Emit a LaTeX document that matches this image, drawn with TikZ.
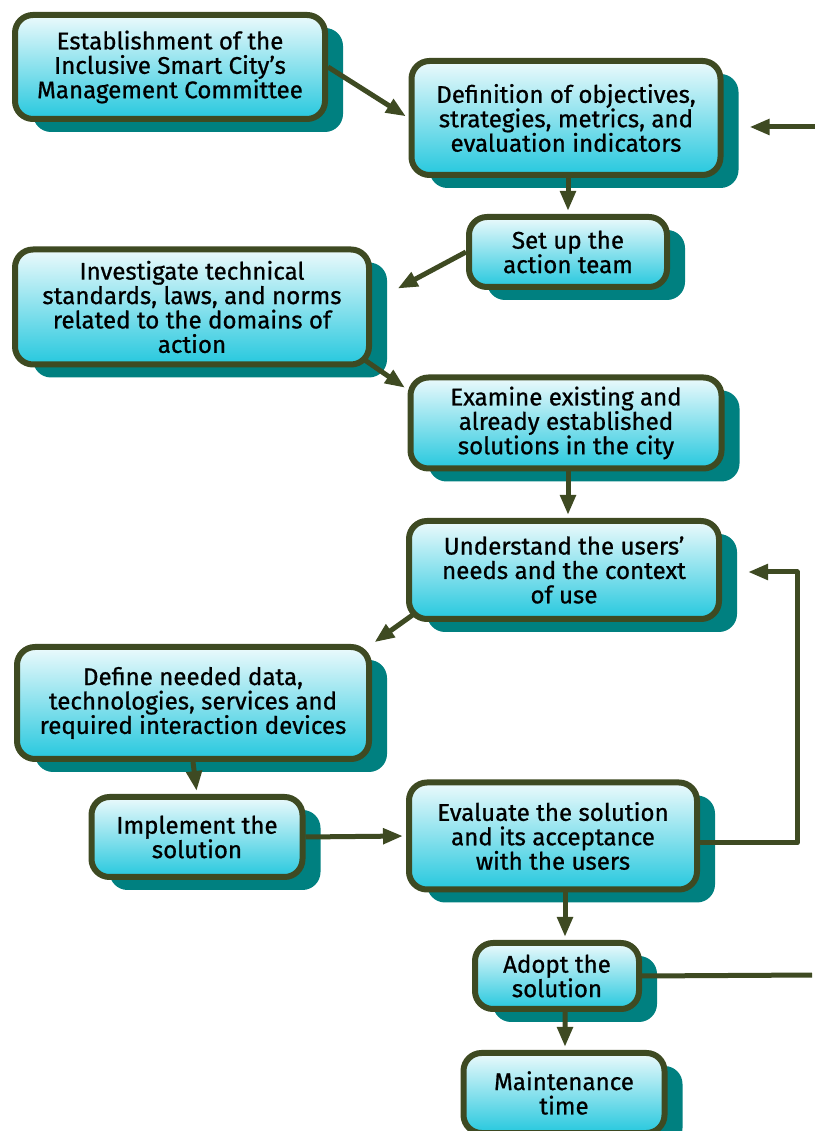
\documentclass[tikz,border=0pt]{standalone}
\usepackage{fontspec}
\setmainfont{Fira Sans}[RawFeature={embolden=0.8}]
\usetikzlibrary{arrows.meta,shadows}
\definecolor{flowline}{RGB}{62,74,34}
\definecolor{flowshadow}{RGB}{0,128,128}
\definecolor{flowtop}{RGB}{236,250,252}
\definecolor{flowbottom}{RGB}{38,200,222}
\begin{document}
\begin{tikzpicture}[>={Triangle[length=20bp,width=15bp]},line join=round,
  stagebox/.style={draw=flowline,line width=6bp,rounded corners=18bp,
    top color=flowtop,bottom color=flowbottom,align=center,inner sep=0bp,
    font=\fontsize{24.2}{24.5}\selectfont,
    general shadow={fill=flowshadow,shadow xshift=18bp,shadow yshift=-13bp}},
  flow/.style={draw=flowline,line width=5bp,->,shorten >=3bp},
]
\useasboundingbox (0bp,0bp) rectangle (815bp,1131bp);
%%
\node (node_0) at (170bp,1064bp) [stagebox,minimum width=310bp,minimum height=104bp] {Establishment of the\\Inclusive Smart City’s\\Management Committee};
  \node (node_1) at (566bp,1013bp) [stagebox,minimum width=309bp,minimum height=114bp] {Definition of objectives,\\strategies, metrics, and\\evaluation indicators};
  \node (node_2) at (568bp,879bp) [stagebox,minimum width=198bp,minimum height=70bp] {Set up the\\action team};
  \node (node_3) at (192bp,824bp) [stagebox,minimum width=354bp,minimum height=115bp] {Investigate technical\\standards, laws, and norms\\related to the domains of\\action};
  \node (node_4) at (566bp,708bp) [stagebox,minimum width=311bp,minimum height=91bp] {Examine existing and\\already established\\solutions in the city};
  \node (node_5) at (564bp,561bp) [stagebox,minimum width=310bp,minimum height=98bp] {Understand the users’\\needs and the context\\of use};
  \node (node_6) at (193bp,428bp) [stagebox,minimum width=352bp,minimum height=112bp] {Define needed data,\\technologies, services and\\required interaction devices};
  \node (node_7) at (197bp,294bp) [stagebox,minimum width=211bp,minimum height=80bp] {Implement the\\solution};
  \node (node_8) at (553bp,295bp) [stagebox,minimum width=288bp,minimum height=107bp] {Evaluate the solution\\and its acceptance\\with the users};
  \node (node_9) at (557bp,155bp) [stagebox,minimum width=164bp,minimum height=66bp] {Adopt the\\solution};
  \node (node_10) at (564bp,38bp) [stagebox,minimum width=201bp,minimum height=80bp] {Maintenance\\time};
  \coordinate (edge_in) at (815bp,1004bp);
  \coordinate (edge_out) at (815bp,156bp);
%
  \draw [flow] (node_0.east) -- (node_1.west);
  \draw [flow] (node_2.north |- node_1.south) -- (node_2.north);
  \draw [flow] (node_2.west) -- ([xshift=23bp,yshift=17bp]node_3.east);
  \draw [flow] ([xshift=-8bp,yshift=8bp]node_3.south east) -- ([yshift=-15bp]node_4.north west);
  \draw [flow] ([xshift=2bp]node_4.south) -- ([xshift=4bp]node_5.north);
  \draw [flow] ([xshift=8bp,yshift=8bp]node_5.south west) -- (node_6.north east);
  \draw [flow] (node_6.south) -- (node_7.north);
  \draw [flow] (node_7.east) -- (node_8.west);
  \draw [flow] ([yshift=-7bp]node_8.east) -- ++(97bp,0bp) |- ([xshift=23bp,yshift=-2bp]node_5.east);
  \draw [flow] ([xshift=12bp]node_8.south) -- ([xshift=8bp]node_9.north);
  \draw [flow] ([xshift=8bp]node_9.south) -- ([xshift=1bp]node_10.north);
  \draw [flow] (edge_in) -- ([xshift=23bp,yshift=-9bp]node_1.east);
  \draw [flow,-] (node_9.east) -- (edge_out);
%
\end{tikzpicture}
\end{document}
